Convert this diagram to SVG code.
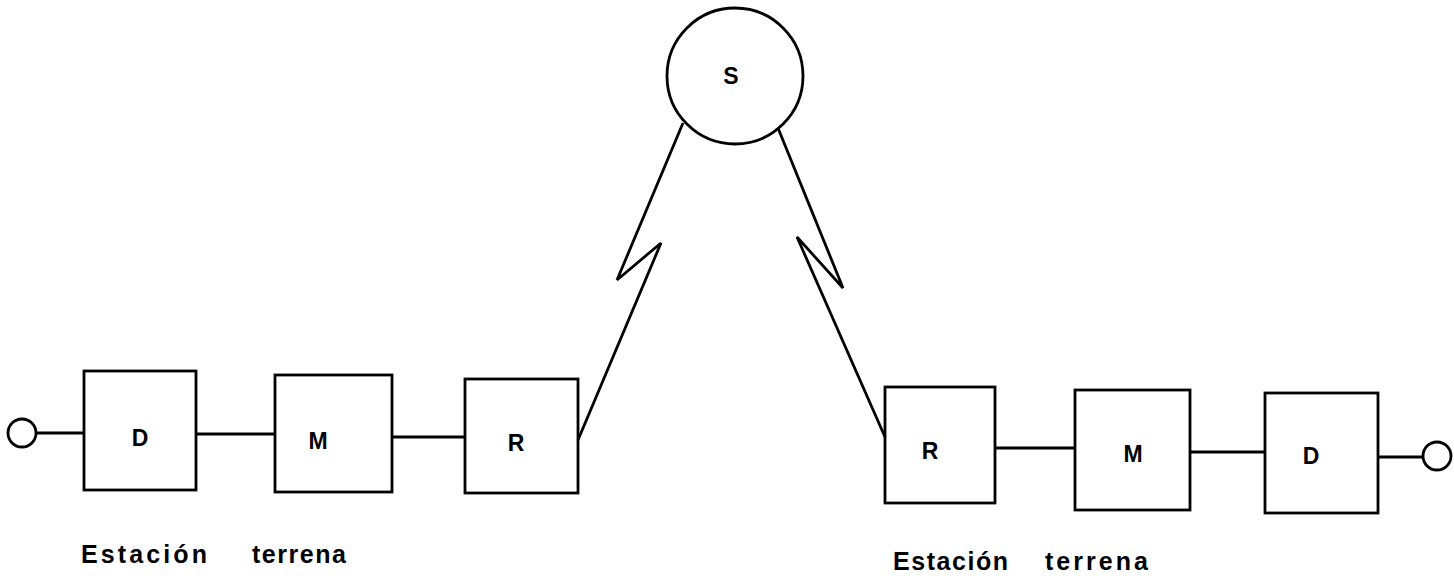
<svg xmlns="http://www.w3.org/2000/svg" width="1454" height="582" viewBox="0 0 1454 582">
<style>
.box{fill:none;stroke:#000;stroke-width:2.8}
.ln{fill:none;stroke:#000;stroke-width:2.8;stroke-linejoin:miter}
.lbl{font-family:"Liberation Sans",Arial,sans-serif;font-weight:bold;font-size:23px;text-anchor:middle;fill:#000}
.cap{font-family:"Liberation Sans",Arial,sans-serif;font-weight:bold;font-size:25px;fill:#000}
</style>
<rect width="1454" height="582" fill="#fff"/>
<g id="connectors">
<line class="ln" x1="36" y1="433" x2="84" y2="433"/>
<line class="ln" x1="196" y1="434" x2="275" y2="434"/>
<line class="ln" x1="392" y1="437" x2="465" y2="437"/>
<polyline class="ln" points="578,440 661,243 617,280 683,123"/>
<polyline class="ln" points="885,437 797,237 843,288 778,128"/>
<line class="ln" x1="995" y1="448" x2="1075" y2="448"/>
<line class="ln" x1="1190" y1="452" x2="1265" y2="452"/>
<line class="ln" x1="1378" y1="457" x2="1423" y2="457"/>
</g>
<g id="in-left"><circle class="box" cx="22" cy="433" r="14"/></g>
<g id="D-left"><rect class="box" x="84" y="371" width="112" height="119"/><text class="lbl" x="140" y="446">D</text></g>
<g id="M-left"><rect class="box" x="275" y="375" width="117" height="117"/><text class="lbl" x="318" y="449">M</text></g>
<g id="R-left"><rect class="box" x="465" y="379" width="113" height="114"/><text class="lbl" x="516" y="451">R</text></g>
<g id="S"><circle class="box" cx="735" cy="76" r="68"/><text class="lbl" x="731" y="84">S</text></g>
<g id="R-right"><rect class="box" x="885" y="387" width="110" height="116"/><text class="lbl" x="930" y="459">R</text></g>
<g id="M-right"><rect class="box" x="1075" y="390" width="115" height="120"/><text class="lbl" x="1133" y="462">M</text></g>
<g id="D-right"><rect class="box" x="1265" y="393" width="113" height="120"/><text class="lbl" x="1311" y="464">D</text></g>
<g id="out-right"><circle class="box" cx="1437" cy="456" r="14"/></g>
<g id="label-left">
<text class="cap" x="81" y="563" textLength="126" lengthAdjust="spacing">Estación</text>
<text class="cap" x="252" y="563" textLength="94" lengthAdjust="spacing">terrena</text>
</g>
<g id="label-right">
<text class="cap" x="893" y="570" textLength="115" lengthAdjust="spacing">Estación</text>
<text class="cap" x="1045" y="570" textLength="103" lengthAdjust="spacing">terrena</text>
</g>
</svg>
